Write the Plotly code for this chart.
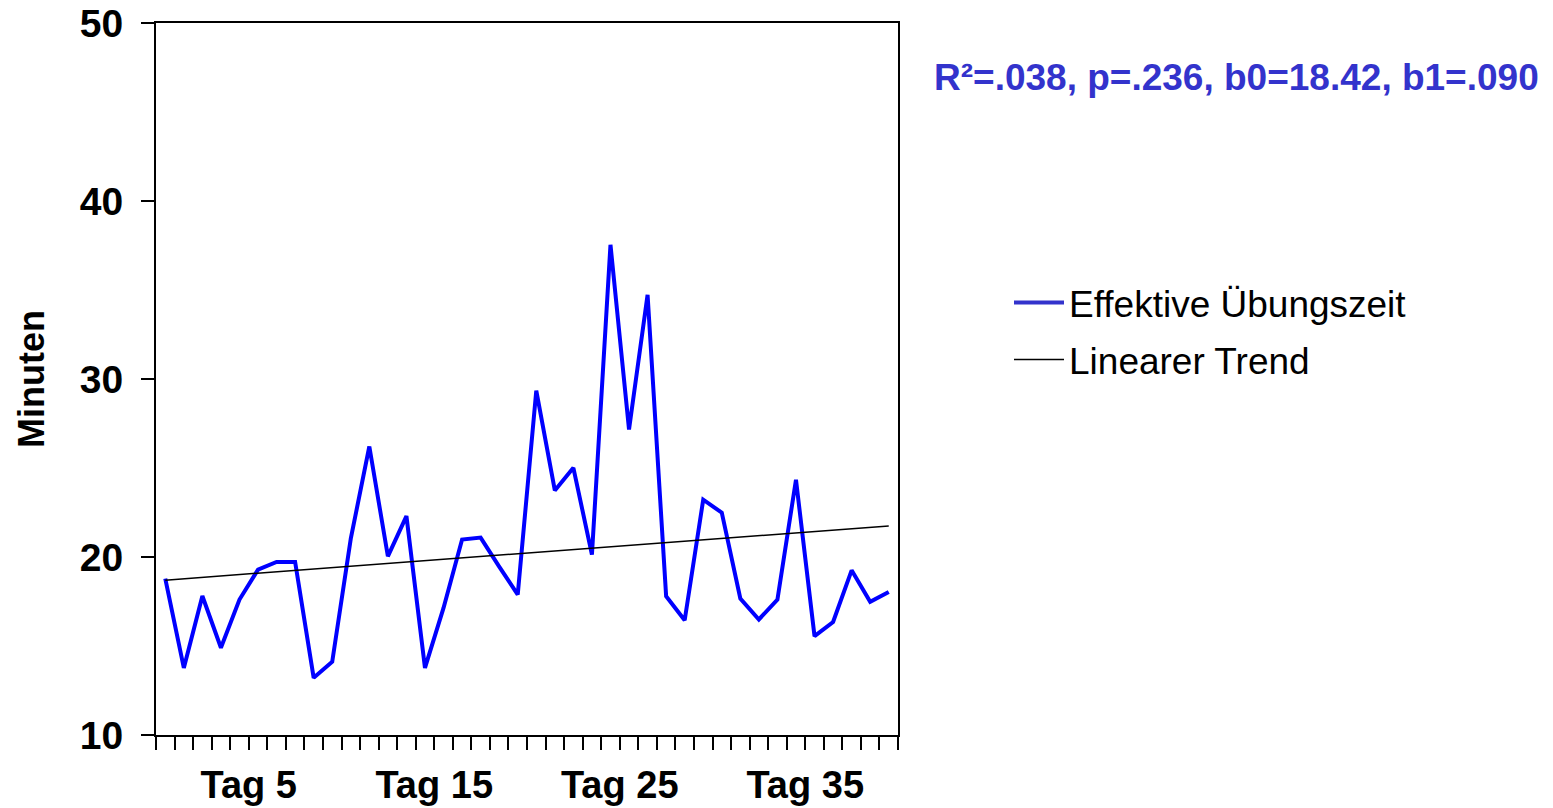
import plotly.graph_objects as go

days = list(range(1, 41))
minutes = [18.79, 13.77, 17.81, 14.90, 17.61, 19.29, 19.72, 19.72, 13.21, 14.11,
           21.03, 26.21, 20.04, 22.30, 13.77, 17.14, 20.98, 21.09, 19.46, 17.89,
           29.35, 23.74, 25.01, 20.13, 37.54, 27.16, 34.73, 17.80, 16.45, 23.22,
           22.49, 17.67, 16.49, 17.61, 24.34, 15.55, 16.35, 19.25, 17.48, 18.04]
trend_days = [1, 40]
trend_values = [18.70, 21.74]
tick_positions = [5.5, 15.5, 25.5, 35.5]
tick_labels = ["Tag 5", "Tag 15", "Tag 25", "Tag 35"]
y_ticks = [10, 20, 30, 40, 50]
boundaries = [i + 0.5 for i in range(0, 41)]

FONT = "Arial, Liberation Sans, sans-serif"
W, H = 1553, 808
L, R, T, B = 156, 898, 23, 735

fig = go.Figure()
fig.add_trace(go.Scatter(x=days, y=minutes, mode="lines",
                         line=dict(color="#0000FF", width=4),
                         showlegend=False, hoverinfo="skip"))
fig.add_trace(go.Scatter(x=trend_days, y=trend_values, mode="lines",
                         line=dict(color="black", width=1.5),
                         showlegend=False, hoverinfo="skip"))
# legend entries
fig.add_trace(go.Scatter(x=[None], y=[None], mode="lines",
                         line=dict(color="#3333CC", width=4),
                         name="Effektive Übungszeit", legend="legend"))
fig.add_trace(go.Scatter(x=[None], y=[None], mode="lines",
                         line=dict(color="black", width=1.5),
                         name="Linearer Trend", legend="legend2"))

def px(xp):
    return (xp - L) / (R - L)

def py(yp):
    return (B - yp) / (B - T)

fig.update_layout(
    width=W, height=H,
    margin=dict(l=L, r=W - R, t=T, b=H - B, pad=0, autoexpand=False),
    paper_bgcolor="white", plot_bgcolor="white",
    font=dict(family=FONT, color="black"),
    xaxis=dict(range=[0.5, 40.5], tickvals=tick_positions, ticktext=tick_labels,
               automargin=False,
               ticks="outside", ticklen=13, tickwidth=1.5, tickcolor="black",
               tickfont=dict(size=38, family=FONT, weight="bold"),
               ticklabelstandoff=2,
               minor=dict(tickvals=boundaries, ticks="outside", ticklen=13,
                          tickwidth=1.5, tickcolor="black"),
               showgrid=False, zeroline=False, showline=True, linecolor="black",
               linewidth=2, mirror=True),
    yaxis=dict(range=[10, 50], tickvals=y_ticks, automargin=False,
               ticks="outside", ticklen=13, tickwidth=2, tickcolor="black",
               tickfont=dict(size=39, family=FONT, weight="bold"),
               ticklabelstandoff=10,
               showgrid=False, zeroline=False, showline=True, linecolor="black",
               linewidth=2, mirror=True,
               title=dict(text="Minuten", font=dict(size=36, family=FONT, weight="bold"),
                          standoff=24)),
    legend=dict(x=px(1009), y=py(303), xanchor="left", yanchor="middle",
                font=dict(size=37, family=FONT, color="black"),
                bgcolor="rgba(0,0,0,0)", borderwidth=0, itemwidth=50),
    legend2=dict(x=px(1009), y=py(360), xanchor="left", yanchor="middle",
                 font=dict(size=37, family=FONT, color="black"),
                 bgcolor="rgba(0,0,0,0)", borderwidth=0, itemwidth=50),
    annotations=[dict(text="R²=.038, p=.236, b0=18.42, b1=.090",
                      xref="paper", yref="paper", x=px(932), y=py(77),
                      xanchor="left", yanchor="middle", showarrow=False,
                      font=dict(size=37, family=FONT, color="#3333CC", weight="bold"))],
)

fig.write_html("out.html")
